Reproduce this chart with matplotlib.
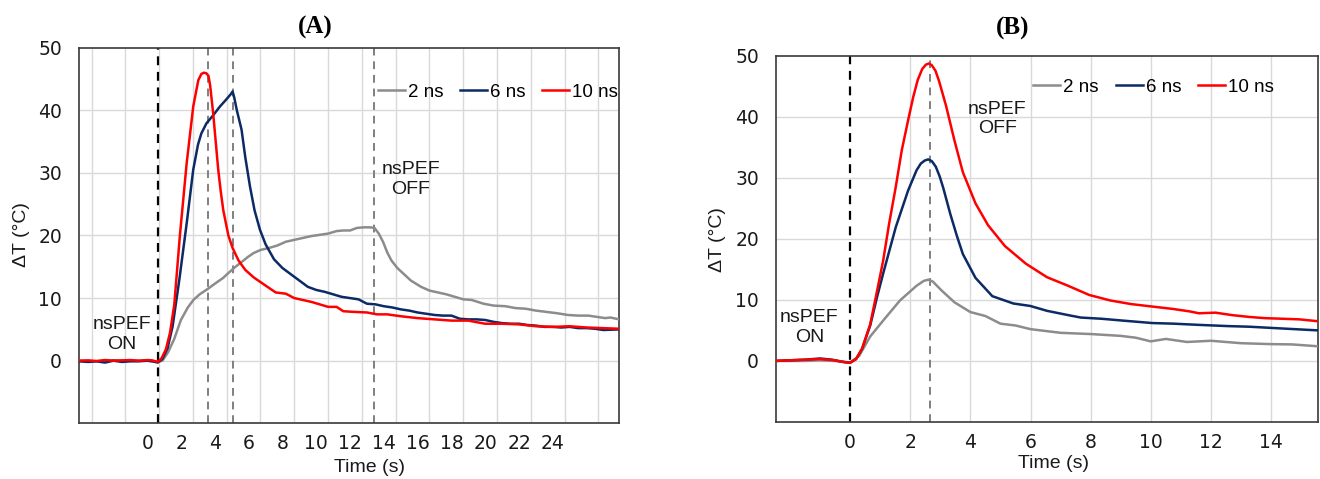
import matplotlib
matplotlib.use("Agg")
from matplotlib import pyplot as plt
from matplotlib.ticker import FixedLocator

# ---- Panel A data (x in tick-label seconds) ----
a_gray_t = [-4.05, -3.0, -2.0, -1.0, 0.0, 0.62, 0.9, 1.24, 1.6, 1.99, 2.4, 2.73, 3.1, 3.6, 4.0, 4.48,
            4.8, 5.22, 5.6, 5.97, 6.3, 6.72, 7.2, 7.7, 8.2, 8.7, 9.2, 9.7, 10.2, 10.7, 11.2, 11.6,
            12.0, 12.4, 12.8, 13.2, 13.45, 13.7, 13.95, 14.2, 14.45, 14.8, 15.2, 15.6, 16.2, 16.7,
            17.2, 17.7, 18.2, 18.7, 19.2, 19.9, 20.5, 21.2, 21.8, 22.4, 23.0, 23.6, 24.2, 24.9,
            25.5, 26.1, 26.6, 27.1, 27.4, 27.93]
a_gray_v = [0.0, -0.1, 0.05, 0.0, 0.0, -0.2, 0.0, 1.4, 3.5, 6.5, 8.5, 9.7, 10.6, 11.5, 12.3, 13.2,
            14.0, 15.0, 15.8, 16.6, 17.2, 17.7, 18.0, 18.4, 19.0, 19.3, 19.6, 19.9, 20.1, 20.3, 20.7, 20.8,
            20.8, 21.2, 21.3, 21.3, 21.2, 20.3, 19.0, 17.3, 16.0, 14.8, 13.8, 12.8, 11.8, 11.2,
            10.9, 10.6, 10.2, 9.8, 9.7, 9.1, 8.8, 8.7, 8.4, 8.3, 8.0, 7.8, 7.6, 7.3,
            7.2, 7.2, 7.0, 6.8, 6.9, 6.6]

a_blue_t = [-4.05, -3.5, -3.0, -2.5, -2.0, -1.5, -1.0, -0.5, 0.0, 0.3, 0.62, 0.9, 1.2, 1.5, 1.9,
            2.33, 2.72, 3.0, 3.2, 3.5, 3.9, 4.3, 4.7, 4.95, 5.05, 5.15, 5.3, 5.58, 5.8, 6.08, 6.35, 6.67, 7.0,
            7.5, 8.0, 8.5, 9.0, 9.5, 10.0, 10.5, 11.0, 11.5, 12.0, 12.5, 13.0, 13.5, 14.0, 14.5,
            15.0, 15.5, 16.0, 16.5, 17.0, 17.5, 18.0, 18.5, 19.0, 19.5, 20.0, 20.5, 21.0, 21.5,
            22.0, 22.5, 23.0, 23.5, 24.0, 24.5, 25.0, 25.5, 26.0, 26.5, 27.0, 27.93]
a_blue_v = [-0.1, -0.2, -0.1, -0.3, 0.0, -0.2, -0.1, -0.1, 0.0, -0.1, -0.3, 0.3, 2.0, 5.5, 13.0,
            21.9, 30.5, 34.5, 36.3, 37.9, 39.2, 40.6, 41.8, 42.6, 43.0, 42.0, 40.0, 36.9, 32.5, 27.8, 24.0, 20.9, 18.6,
            16.2, 14.8, 13.8, 12.8, 11.8, 11.3, 11.0, 10.6, 10.2, 10.0, 9.8, 9.1, 9.0, 8.7, 8.5,
            8.2, 8.0, 7.7, 7.5, 7.3, 7.2, 7.2, 6.7, 6.6, 6.6, 6.5, 6.2, 6.0, 5.9,
            5.9, 5.7, 5.6, 5.4, 5.4, 5.3, 5.4, 5.2, 5.2, 5.1, 4.9, 5.0]

a_red_t = [-4.05, -3.5, -3.0, -2.5, -2.0, -1.5, -1.0, -0.5, 0.0, 0.3, 0.62, 0.85, 1.1, 1.35, 1.6,
           1.93, 2.33, 2.72, 3.02, 3.2, 3.35, 3.5, 3.62, 3.72, 3.82, 3.9, 4.05, 4.2, 4.35, 4.5, 4.8, 5.05,
           5.4, 5.8, 6.3, 7.0, 7.6, 8.2, 8.7, 9.2, 9.7, 10.2, 10.7, 11.2, 11.6, 12.2, 13.0, 13.6,
           14.2, 15.0, 16.0, 17.0, 18.0, 19.0, 20.0, 21.0, 22.0, 23.0, 24.0, 25.0, 26.0, 27.0, 27.93]
a_red_v = [0.0, 0.05, -0.05, 0.1, 0.0, 0.05, 0.1, 0.0, 0.1, 0.05, -0.2, 0.4, 1.8, 4.5, 9.0,
           20.0, 31.5, 40.6, 44.8, 45.8, 46.0, 45.9, 45.5, 44.0, 41.5, 39.5, 35.0, 30.5, 27.0, 24.0, 20.0, 18.0,
           16.0, 14.5, 13.3, 12.0, 10.9, 10.7, 10.0, 9.7, 9.4, 9.0, 8.6, 8.6, 7.9, 7.8, 7.7, 7.4,
           7.4, 7.1, 6.8, 6.6, 6.4, 6.4, 5.9, 5.9, 5.8, 5.5, 5.4, 5.5, 5.3, 5.2, 5.1]

a_ticks = list(range(0, 26, 2))
a_grid = [-3.3 + 2 * k for k in range(16)]
a_on = 0.62
a_off = [3.6, 5.05, 13.4]

# ---- Panel B data (x in seconds) ----
b_gray_t = [-2.47, -1.5, -1.0, -0.5, 0.0, 0.3, 0.67, 1.1, 1.66, 2.21, 2.45, 2.6, 2.75, 3.05, 3.47, 4.0, 4.5,
            5.0, 5.5, 6.0, 7.0, 8.0, 9.0, 9.5, 10.0, 10.5, 11.2, 12.0, 13.0, 14.0, 14.7, 15.55]
b_gray_v = [0.0, 0.0, 0.1, 0.0, -0.3, 0.8, 4.0, 6.6, 9.9, 12.3, 13.1, 13.3, 13.0, 11.5, 9.6, 8.0, 7.35,
            6.1, 5.8, 5.2, 4.6, 4.4, 4.1, 3.8, 3.2, 3.6, 3.1, 3.3, 2.9, 2.75, 2.7, 2.4]

b_blue_t = [-2.47, -2.0, -1.5, -1.0, -0.6, -0.3, 0.0, 0.2, 0.4, 0.67, 0.9, 1.1, 1.52, 1.93, 2.21,
            2.35, 2.48, 2.6, 2.72, 2.85, 2.98, 3.1, 3.33, 3.55, 3.75, 4.17, 4.73, 5.43, 5.99, 6.55, 7.25, 7.67,
            8.37, 9.07, 10.05, 10.75, 11.6, 12.57, 13.27, 14.4, 15.55]
b_blue_v = [0.0, 0.1, 0.2, 0.4, 0.2, -0.1, -0.3, 0.3, 2.0, 5.8, 10.5, 14.3, 21.9, 27.9, 31.2,
            32.3, 32.8, 33.0, 32.7, 31.8, 30.2, 28.3, 24.1, 20.5, 17.5, 13.6, 10.6, 9.4, 9.0, 8.2, 7.5, 7.1,
            6.9, 6.6, 6.2, 6.1, 5.9, 5.7, 5.6, 5.3, 5.0]

b_red_t = [-2.47, -2.0, -1.5, -1.0, -0.5, -0.2, 0.0, 0.2, 0.4, 0.67, 0.9, 1.1, 1.3, 1.52, 1.72,
           1.93, 2.1, 2.25, 2.4, 2.52, 2.62, 2.72, 2.84, 2.96, 3.19, 3.47, 3.75, 4.17, 4.59, 5.15, 5.85, 6.55, 7.25,
           7.95, 8.65, 9.35, 10.05, 10.75, 11.3, 11.6, 12.15, 12.7, 13.27, 13.8, 14.4, 14.95, 15.55]
b_red_v = [0.0, 0.1, 0.2, 0.3, 0.1, -0.2, -0.3, 0.3, 2.0, 6.0, 11.5, 16.4, 22.5, 28.5, 34.5,
           39.4, 43.2, 46.0, 47.8, 48.5, 48.7, 48.4, 47.5, 45.8, 41.8, 36.1, 30.9, 25.8, 22.2, 18.8, 15.9, 13.7, 12.3,
           10.8, 9.9, 9.3, 8.9, 8.5, 8.1, 7.8, 7.9, 7.5, 7.2, 7.0, 6.9, 6.8, 6.5]

b_ticks = list(range(0, 16, 2))
b_grid = list(range(2, 16, 2))
b_on = 0.0
b_off = [2.67]

labels = ['2 ns', '6 ns', '10 ns']
colors = ['#8c8c8c', '#0b2a66', '#ff0000']

LABEL_FONT = 'Liberation Sans'
TICK_FONT = 'DejaVu Sans'


def draw_panel(ax, series, xlim, ticks, grid_x, on_x, off_x, on_xy, off_xy, leg_anchor):
    ax.set_xlim(*xlim)
    ax.set_ylim(-10, 50)
    ax.set_yticks(range(0, 51, 10))
    ax.set_xticks(ticks)
    ax.xaxis.set_minor_locator(FixedLocator(grid_x))
    ax.tick_params(axis='both', which='both', length=0)
    ax.tick_params(axis='y', pad=12, labelsize=13.5)
    ax.tick_params(axis='x', pad=8, labelsize=13.5)
    for lab in ax.get_xticklabels() + ax.get_yticklabels():
        lab.set_fontfamily(TICK_FONT)
        lab.set_color('#1a1a1a')
    ax.grid(False)
    for gx in grid_x:
        ax.axvline(gx, color='#d9d9d9', lw=1.0, zorder=0)
    for gy in range(0, 50, 10):
        ax.axhline(gy, color='#d9d9d9', lw=1.0, zorder=0)
    for sp in ax.spines.values():
        sp.set_color('#3a3a3a')
        sp.set_linewidth(1.2)

    ax.axvline(on_x, color='black', lw=1.6, ls=(0, (4, 3)), zorder=1)
    for ox in off_x:
        ax.axvline(ox, color='#7f7f7f', lw=1.4, ls=(0, (4, 3)), zorder=1)

    handles = []
    for (t, v), lab, c in zip(series, labels, colors):
        h, = ax.plot(t, v, color=c, lw=1.8, label=lab, solid_joinstyle='round', zorder=3)
        handles.append(h)

    ax.legend(handles=handles, loc='center right', bbox_to_anchor=leg_anchor, ncol=3,
              frameon=False, handlelength=1.45, handletextpad=0.15, columnspacing=0.9,
              borderpad=0, borderaxespad=0, prop={'family': LABEL_FONT, 'size': 13.5})

    ax.text(on_xy[0], on_xy[1], 'nsPEF\nON', ha='center', va='center', fontsize=14,
            family=LABEL_FONT, linespacing=1.2, color='#1a1a1a')
    ax.text(off_xy[0], off_xy[1], 'nsPEF\nOFF', ha='center', va='center', fontsize=14,
            family=LABEL_FONT, linespacing=1.2, color='#1a1a1a')


fig = plt.figure(figsize=(13.2, 4.79), dpi=100)
ax_a = fig.add_axes([0.0596, 0.1163, 0.4095, 0.7842])
ax_b = fig.add_axes([0.5877, 0.1190, 0.4106, 0.7651])

draw_panel(ax_a, [(a_gray_t, a_gray_v), (a_blue_t, a_blue_v), (a_red_t, a_red_v)],
           (-4.06, 27.93), a_ticks, a_grid, a_on, a_off, (-1.5, 4.2), (15.6, 28.9), (0.998, 0.882))
draw_panel(ax_b, [(b_gray_t, b_gray_v), (b_blue_t, b_blue_v), (b_red_t, b_red_v)],
           (-2.47, 15.55), b_ticks, b_grid, b_on, b_off, (-1.35, 5.5), (4.9, 39.6), (0.919, 0.913))

# panel titles and axis labels
fig.text(315 / 1320, 1 - 27 / 479, '(A)', ha='center', va='center', fontsize=18,
         family='Liberation Serif', weight='bold')
fig.text(1013 / 1320, 1 - 28 / 479, '(B)', ha='center', va='center', fontsize=18,
         family='Liberation Serif', weight='bold')
fig.text(22 / 1320, 1 - 235 / 479, 'ΔT (°C)', ha='center', va='center', rotation=90,
         fontsize=14, family=LABEL_FONT, color='#1a1a1a')
fig.text(718 / 1320, 1 - 240 / 479, 'ΔT (°C)', ha='center', va='center', rotation=90,
         fontsize=14, family=LABEL_FONT, color='#1a1a1a')
fig.text(369 / 1320, 1 - 467 / 479, 'Time (s)', ha='center', va='center',
         fontsize=14, family=LABEL_FONT, color='#1a1a1a')
fig.text(1054 / 1320, 1 - 463 / 479, 'Time (s)', ha='center', va='center',
         fontsize=14, family=LABEL_FONT, color='#1a1a1a')

fig.savefig('out.png', dpi=100, facecolor='white')
